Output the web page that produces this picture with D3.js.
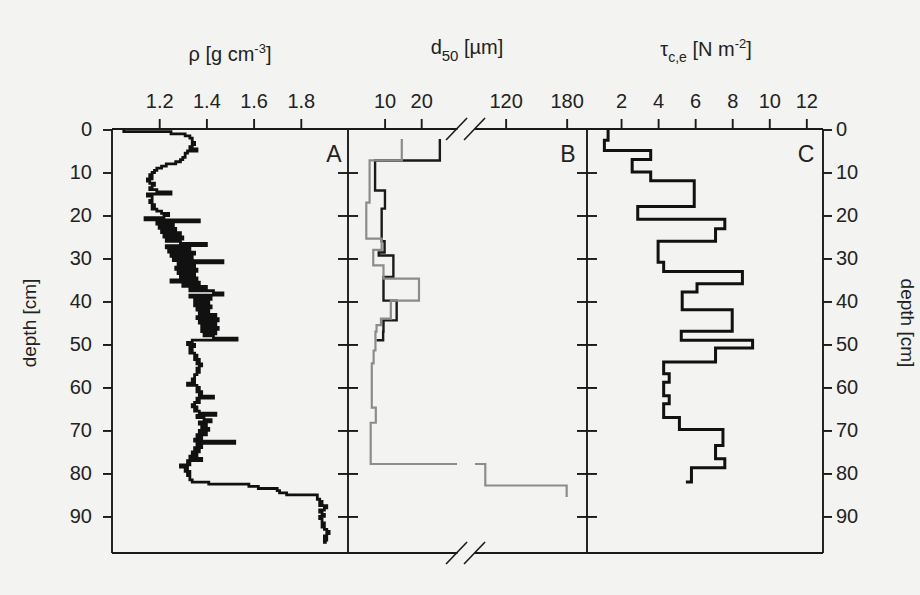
<!DOCTYPE html>
<html>
<head>
<meta charset="utf-8">
<script src="https://cdn.jsdelivr.net/npm/d3@7"></script>
<style>
	body { margin: 0; background: #f3f3f1; }
	svg { display: block; }
	text { font-family: "Liberation Sans", Arial, sans-serif; fill: #222; }
</style>
</head>
<body>
<svg id="chart" width="920" height="595"></svg>
<script>
// depth ticks (cm), shared by all three panels
var depthTicks = [0, 10, 20, 30, 40, 50, 60, 70, 80, 90];

// panel A: wet bulk density, one value every 0.5 cm from 0 cm
var rhoStep = 0.5;
var rhoVal = [
	1.05, 1.25, 1.31, 1.33, 1.34, 1.34, 1.35, 1.34, 1.33, 1.36,
	1.32, 1.31, 1.31, 1.30, 1.29, 1.27, 1.23, 1.21, 1.19, 1.18,
	1.17, 1.16, 1.17, 1.15, 1.16, 1.18, 1.17, 1.16, 1.19, 1.25,
	1.15, 1.17, 1.17, 1.16, 1.17, 1.18, 1.17, 1.19, 1.21, 1.24,
	1.22, 1.14, 1.37, 1.19, 1.26, 1.20, 1.27, 1.21, 1.29, 1.22,
	1.30, 1.23, 1.29, 1.40, 1.23, 1.33, 1.24, 1.35, 1.25, 1.34,
	1.26, 1.47, 1.28, 1.35, 1.27, 1.36, 1.28, 1.35, 1.29, 1.36,
	1.25, 1.37, 1.30, 1.40, 1.33, 1.43, 1.47, 1.33, 1.42, 1.35,
	1.41, 1.35, 1.42, 1.36, 1.41, 1.37, 1.44, 1.36, 1.45, 1.37,
	1.44, 1.38, 1.45, 1.38, 1.44, 1.39, 1.43, 1.53, 1.34, 1.32,
	1.35, 1.33, 1.34, 1.33, 1.35, 1.36, 1.35, 1.37, 1.36, 1.38,
	1.37, 1.36, 1.37, 1.36, 1.35, 1.35, 1.34, 1.35, 1.32, 1.36,
	1.37, 1.36, 1.38, 1.37, 1.43, 1.36, 1.37, 1.35, 1.34, 1.36,
	1.35, 1.37, 1.44, 1.36, 1.39, 1.42, 1.37, 1.40, 1.38, 1.41,
	1.37, 1.40, 1.36, 1.38, 1.35, 1.52, 1.36, 1.38, 1.35, 1.37,
	1.34, 1.36, 1.33, 1.38, 1.32, 1.33, 1.29, 1.32, 1.31, 1.33,
	1.32, 1.33, 1.33, 1.34, 1.41, 1.58, 1.62, 1.70, 1.71, 1.74,
	1.87, 1.87, 1.88, 1.89, 1.88, 1.91, 1.90, 1.88, 1.89, 1.90,
	1.88, 1.89, 1.89, 1.90, 1.89, 1.90, 1.91, 1.92, 1.91, 1.90,
	1.91, 1.90, 1.91
];
var rhoTicks = [1.2, 1.4, 1.6, 1.8];

// panel B: median grain size, two cores (layer boundaries in cm, one value per layer)
var d50BlackDepth = [2.2, 7.2, 14.2, 18.4, 26.0, 28.6, 29.3, 34.3, 39.8, 44.4, 47.0, 49.0, 49.0];
var d50BlackVal   = [25.1, 7.4, 10.1, 9.2, 10.0, 8.4, 12.4, 9.7, 13.3, 9.7, 9.6, 7.8];
var d50GreyDepth  = [2.2, 7.2, 17.0, 25.4, 28.0, 31.6, 34.7, 39.8, 44.0, 45.5, 47.0, 51.4, 54.4, 64.7, 68.2, 77.8, 82.8, 85.5];
var d50GreyVal    = [14.7, 5.9, 5.0, 9.2, 6.9, 9.7, 19.4, 11.7, 9.0, 7.8, 7.5, 7.0, 6.5, 7.6, 6.2, 100, 180];
var d50TicksLow  = [10, 20];
var d50TicksHigh = [120, 180];

// panel C: critical erosion shear stress
var tauDepth = [0, 2.5, 4.9, 7.0, 9.9, 11.9, 17.9, 20.9, 23.1, 26.0, 30.9, 33.0, 35.9, 37.8, 41.9,
	46.9, 49.0, 50.8, 54.1, 56.8, 58.8, 61.9, 63.8, 67.0, 69.8, 73.5, 76.6, 78.7, 82.0, 82.0];
var tauVal = [1.3, 1.1, 3.6, 2.6, 3.6, 5.95, 2.9, 7.6, 7.1, 4.0, 4.3, 8.55, 6.1, 5.3, 8.0,
	5.25, 9.1, 7.1, 4.3, 4.6, 4.3, 4.6, 4.3, 5.15, 7.5, 7.1, 7.6, 5.8, 5.5];
var tauTicks = [2, 4, 6, 8, 10, 12];

var svg = d3.select("#chart");

// note: "top" is taken by window.top, so plot edges get other names
var yTop = 129, yBot = 553;
var xEdges = [112, 348, 587, 823];

var y = d3.scaleLinear().domain([0, 98.5]).range([129.5, yBot]);
var xA = d3.scaleLinear().domain([1.0, 2.0]).range([xEdges[0], xEdges[1]]);
var xBlow = d3.scaleLinear().domain([0, 32]).range([xEdges[1], 465.1]);
var xBhigh = d3.scaleLinear().domain([82, 200]).range([467, xEdges[2]]);
var xC = d3.scaleLinear().domain([0, 12.9]).range([584, xEdges[3]]);

// broken axis: low part below 50, high part above
function xB(v){
	return v < 50 ? xBlow(v) : xBhigh(v);
}
var brk = (xBlow(32) + xBhigh(82)) / 2;
var gapL = brk - 9, gapR = brk + 9;

function layerPoints(depths, vals){
	// turn layers into a stepped polyline
	var pts = [];
	for(var i = 0; i < vals.length; i++){
		pts.push([vals[i], depths[i]]);
		pts.push([vals[i], depths[i + 1]]);
	}
	return pts;
}

// ---- frame ----
var frame = svg.append("g").attr("stroke", "#1a1a1a").attr("stroke-width", 1.9).attr("fill", "none");
for(var i = 0; i < xEdges.length; i++){
	frame.append("line").attr("x1", xEdges[i]).attr("x2", xEdges[i]).attr("y1", yTop).attr("y2", yBot);
}
[yTop, yBot].forEach(function(yy){
	frame.append("line").attr("x1", xEdges[0]).attr("x2", gapL + 0.5).attr("y1", yy).attr("y2", yy);
	frame.append("line").attr("x1", gapR - 0.5).attr("x2", xEdges[3]).attr("y1", yy).attr("y2", yy);
	// break marks
	[gapL, gapR].forEach(function(gx){
		frame.append("line")
			.attr("x1", gx - 11).attr("y1", yy + 11)
			.attr("x2", gx + 10).attr("y2", yy - 11)
			.attr("stroke-width", 1.6);
	});
});

// ---- depth axes ----
function styleAxis(g){
	g.select(".domain").remove();
	g.selectAll(".tick line").attr("stroke", "#1a1a1a").attr("stroke-width", 1.9);
	g.selectAll(".tick text").attr("font-size", 20).attr("fill", "#222");
}

svg.append("g").attr("transform", "translate(" + xEdges[0] + ",0)")
	.call(d3.axisLeft(y).tickValues(depthTicks).tickSize(9).tickPadding(11))
	.call(styleAxis);
svg.append("g").attr("transform", "translate(" + xEdges[3] + ",0)")
	.call(d3.axisRight(y).tickValues(depthTicks).tickSize(9).tickPadding(4))
	.call(styleAxis);

// inner dividers get ticks on both sides
[xEdges[1], xEdges[2]].forEach(function(xx){
	svg.append("g").attr("transform", "translate(" + xx + ",0)")
		.call(d3.axisLeft(y).tickValues(depthTicks.slice(1)).tickSize(10).tickFormat(""))
		.call(styleAxis);
	svg.append("g").attr("transform", "translate(" + xx + ",0)")
		.call(d3.axisRight(y).tickValues(depthTicks.slice(1)).tickSize(10).tickFormat(""))
		.call(styleAxis);
});

// ---- top axes ----
svg.append("g").attr("transform", "translate(0," + yTop + ")")
	.call(d3.axisTop(xA).tickValues(rhoTicks).tickSize(10).tickPadding(11).tickFormat(d3.format(".1f")))
	.call(styleAxis);
svg.append("g").attr("transform", "translate(0," + yTop + ")")
	.call(d3.axisTop(xBlow).tickValues(d50TicksLow).tickSize(10).tickPadding(11))
	.call(styleAxis);
svg.append("g").attr("transform", "translate(0," + yTop + ")")
	.call(d3.axisTop(xBhigh).tickValues(d50TicksHigh).tickSize(10).tickPadding(11))
	.call(styleAxis);
svg.append("g").attr("transform", "translate(0," + yTop + ")")
	.call(d3.axisTop(xC).tickValues(tauTicks).tickSize(10).tickPadding(11))
	.call(styleAxis);

// ---- data ----
var rhoPts = rhoVal.map(function(v, i){ return [v, i * rhoStep]; });
svg.append("path")
	.datum(rhoPts)
	.attr("fill", "none")
	.attr("stroke", "#111")
	.attr("stroke-width", 2.8)
	.attr("d", d3.line()
		.x(function(d){ return xA(d[0]); })
		.y(function(d){ return y(d[1]); })
		.curve(d3.curveStepBefore));

// panel B is clipped so the grey line breaks at the axis break
var clip = svg.append("clipPath").attr("id", "clipB");
clip.append("rect").attr("x", xEdges[1]).attr("y", yTop).attr("width", gapL - xEdges[1]).attr("height", yBot - yTop);
clip.append("rect").attr("x", gapR).attr("y", yTop).attr("width", xEdges[2] - gapR).attr("height", yBot - yTop);

var lineB = d3.line()
	.x(function(d){ return xB(d[0]); })
	.y(function(d){ return y(d[1]); });
var gB = svg.append("g").attr("clip-path", "url(#clipB)");
gB.append("path")
	.datum(layerPoints(d50BlackDepth, d50BlackVal))
	.attr("fill", "none").attr("stroke", "#1a1a1a").attr("stroke-width", 2.4)
	.attr("d", lineB);
gB.append("path")
	.datum(layerPoints(d50GreyDepth, d50GreyVal))
	.attr("fill", "none").attr("stroke", "#8c8c8c").attr("stroke-width", 2.2)
	.attr("d", lineB);

svg.append("path")
	.datum(layerPoints(tauDepth, tauVal))
	.attr("fill", "none").attr("stroke", "#111").attr("stroke-width", 3)
	.attr("d", d3.line()
		.x(function(d){ return xC(d[0]); })
		.y(function(d){ return y(d[1]); }));

// ---- panel letters ----
var letters = [["A", 334], ["B", 568], ["C", 806]];
letters.forEach(function(l){
	svg.append("text").attr("x", l[1]).attr("y", 162)
		.attr("text-anchor", "middle").attr("font-size", 23).text(l[0]);
});

// ---- titles ----
var t1 = svg.append("text").attr("x", 230).attr("y", 61).attr("text-anchor", "middle").attr("font-size", 20);
t1.append("tspan").text("ρ [g cm");
t1.append("tspan").attr("dy", -8).attr("font-size", 13).text("-3");
t1.append("tspan").attr("dy", 8).text("]");

var t2 = svg.append("text").attr("x", 467).attr("y", 54).attr("text-anchor", "middle").attr("font-size", 20);
t2.append("tspan").text("d");
t2.append("tspan").attr("dy", 7).attr("font-size", 15).text("50");
t2.append("tspan").attr("dy", -7).text(" [µm]");

var t3 = svg.append("text").attr("x", 706).attr("y", 56).attr("text-anchor", "middle").attr("font-size", 20);
t3.append("tspan").text("τ");
t3.append("tspan").attr("dy", 6).attr("font-size", 14).text("c,e");
t3.append("tspan").attr("dy", -6).text(" [N m");
t3.append("tspan").attr("dy", -8).attr("font-size", 13).text("-2");
t3.append("tspan").attr("dy", 8).text("]");

svg.append("text")
	.attr("transform", "translate(36," + y(45) + ") rotate(-90)")
	.attr("text-anchor", "middle").attr("font-size", 19).text("depth [cm]");
svg.append("text")
	.attr("transform", "translate(901," + y(45) + ") rotate(90)")
	.attr("text-anchor", "middle").attr("font-size", 19).text("depth [cm]");
</script>
</body>
</html>
